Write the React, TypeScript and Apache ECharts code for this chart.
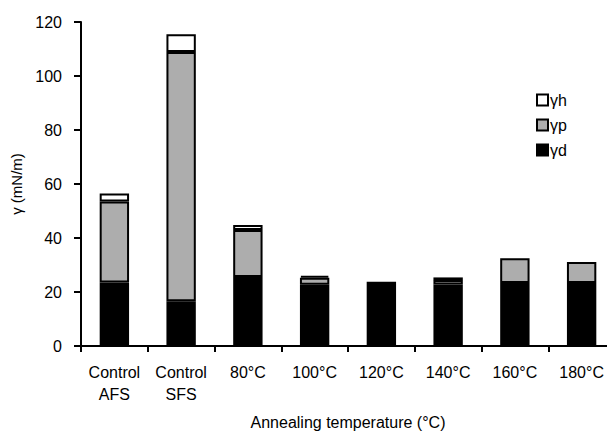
import React, { useEffect, useRef } from "react";
import * as echarts from "echarts";

const categories = ["Control\nAFS", "Control\nSFS", "80°C", "100°C", "120°C", "140°C", "160°C", "180°C"];
const gammaD = [23.5, 16.6, 25.6, 22.7, 23.8, 22.8, 23.3, 23.3];
const gammaP = [30.0, 92.3, 17.4, 2.6, null, 1.6, 9.2, 7.8];
const gammaH = [3.0, 6.6, 1.8, 0.7, null, 1.0, null, null];
const yTicks = { min: 0, max: 120, interval: 20 };

const FONT = "'Liberation Sans', Arial, sans-serif";

export default function App() {
  const ref = useRef<HTMLDivElement>(null);
  useEffect(() => {
    if (!ref.current) return;
    const chart = echarts.init(ref.current, null, { renderer: "svg" });
    const border = { borderColor: "#000", borderWidth: 2 };
    chart.setOption({
      animation: false,
      backgroundColor: "#fff",
      textStyle: { fontFamily: FONT },
      grid: { left: 81, top: 22, right: -8, bottom: 86, containLabel: false, outerBoundsMode: "none" },
      legend: {
        orient: "vertical",
        left: 531,
        top: 87,
        itemWidth: 11,
        itemHeight: 11,
        itemGap: 9,
        icon: "rect",
        data: ["γh", "γp", "γd"],
        textStyle: { fontSize: 16, lineHeight: 16, color: "#000", fontFamily: FONT, padding: [0, 0, 0, -3] },
      },
      xAxis: {
        type: "category",
        data: categories,
        name: "Annealing temperature (°C)",
        nameLocation: "middle",
        nameGap: 68,
        nameTextStyle: { fontSize: 16, color: "#000", fontFamily: FONT },
        axisLine: { lineStyle: { color: "#000", width: 2 } },
        axisTick: { show: true, length: 6, lineStyle: { color: "#000", width: 2 } },
        axisLabel: { fontSize: 16, color: "#000", lineHeight: 22, margin: 15, fontFamily: FONT, interval: 0 },
      },
      yAxis: {
        type: "value",
        min: yTicks.min,
        max: yTicks.max,
        interval: yTicks.interval,
        name: "γ (mN/m)",
        nameLocation: "middle",
        nameGap: 54,
        nameRotate: 90,
        nameTextStyle: { fontSize: 15, color: "#000", fontFamily: FONT },
        splitLine: { show: false },
        axisLine: { show: true, lineStyle: { color: "#000", width: 2 } },
        axisTick: { show: true, length: 7, lineStyle: { color: "#000", width: 2 } },
        axisLabel: { fontSize: 16, color: "#000", margin: 19, fontFamily: FONT },
      },
      series: [
        { name: "γd", type: "bar", stack: "g", barWidth: "44%", data: gammaD, itemStyle: { color: "#000", ...border } },
        { name: "γp", type: "bar", stack: "g", barWidth: "44%", data: gammaP, itemStyle: { color: "#adadad", ...border } },
        { name: "γh", type: "bar", stack: "g", barWidth: "44%", data: gammaH, itemStyle: { color: "#fff", ...border } },
      ],
    });
    return () => chart.dispose();
  }, []);
  return <div ref={ref} style={{ position: "absolute", left: 0, top: 0, width: 607, height: 432 }} />;
}
